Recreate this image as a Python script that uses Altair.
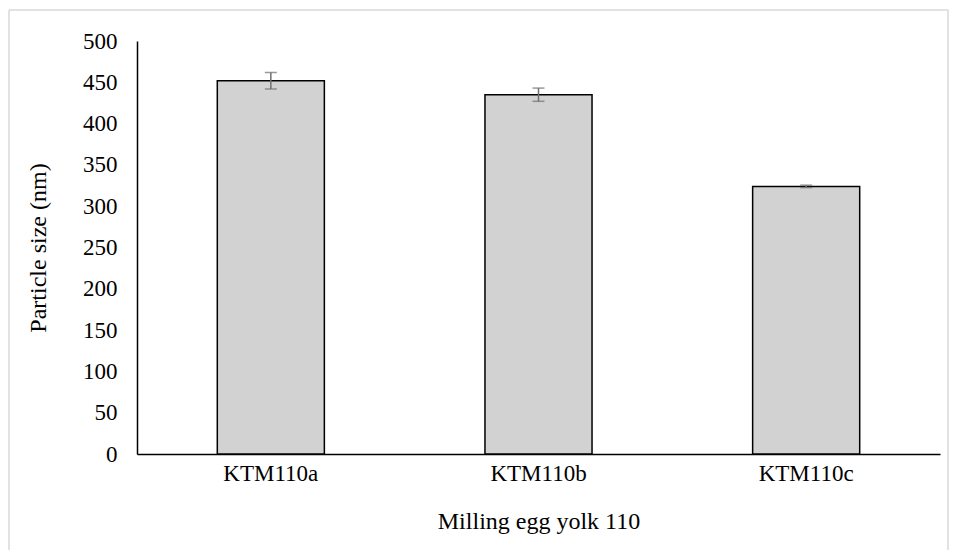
import altair as alt
import pandas as pd

samples = ["KTM110a", "KTM110b", "KTM110c"]
sizes = [452, 435, 324]
errors = [10, 8, 1.5]

df = pd.DataFrame({"sample": samples, "size": sizes, "err": errors})
df["lo"] = df["size"] - df["err"]
df["hi"] = df["size"] + df["err"]

FONT = "Liberation Serif"

xenc = alt.X("sample:N", sort=samples, title="Milling egg yolk 110",
             scale=alt.Scale(paddingInner=0.6, paddingOuter=0.3),
             axis=alt.Axis(labelAngle=0, ticks=False, grid=False, domainColor="black", domainWidth=1.5,
                           labelFontSize=23, titleFontSize=24, labelPadding=8,
                           titlePadding=24, labelColor="black", titleColor="black",
                           titleFontWeight="normal"))

bars = alt.Chart(df).mark_bar(fill="#d2d2d2", stroke="black", strokeWidth=1.5).encode(
    x=xenc,
    y=alt.Y("size:Q", title="Particle size (nm)",
            scale=alt.Scale(domain=[0, 500], nice=False),
            axis=alt.Axis(values=list(range(0, 501, 50)), ticks=False, grid=False,
                          domainColor="black", domainWidth=1.5, labelFontSize=23, titleFontSize=24,
                          labelPadding=20, titlePadding=32, labelColor="black",
                          titleColor="black", titleFontWeight="normal")),
)

rule = alt.Chart(df).mark_rule(color="#6f6f6f", strokeWidth=1.5).encode(
    x=alt.X("sample:N", sort=samples), y="lo:Q", y2="hi:Q")
cap_lo = alt.Chart(df).mark_tick(color="#6f6f6f", thickness=1.5, size=12, orient="horizontal").encode(
    x=alt.X("sample:N", sort=samples), y="lo:Q")
cap_hi = alt.Chart(df).mark_tick(color="#6f6f6f", thickness=1.5, size=12, orient="horizontal").encode(
    x=alt.X("sample:N", sort=samples), y="hi:Q")

one = df.iloc[:1]
frame_style = dict(color="#d9d9d9", strokeWidth=1.5, clip=False)
frame_top = alt.Chart(one).mark_rule(**frame_style).encode(
    x=alt.value(-128), x2=alt.value(811), y=alt.value(-31))
frame_left = alt.Chart(one).mark_rule(**frame_style).encode(
    x=alt.value(-128), y=alt.value(-31), y2=alt.value(560))
frame_right = alt.Chart(one).mark_rule(**frame_style).encode(
    x=alt.value(811), y=alt.value(-31), y2=alt.value(560))

chart = alt.layer(frame_top, frame_left, frame_right, bars, rule, cap_lo, cap_hi).properties(
    width=803, height=413,
    padding={"left": 129, "top": 33, "right": 10, "bottom": 96},
    autosize=alt.AutoSizeParams(type="none"),
).configure(font=FONT, view=alt.ViewConfig(stroke="transparent", strokeWidth=0)).configure_axis(
    labelFont=FONT, titleFont=FONT, grid=False)

chart.save("out.html", embed_options={"renderer": "svg", "actions": False})
